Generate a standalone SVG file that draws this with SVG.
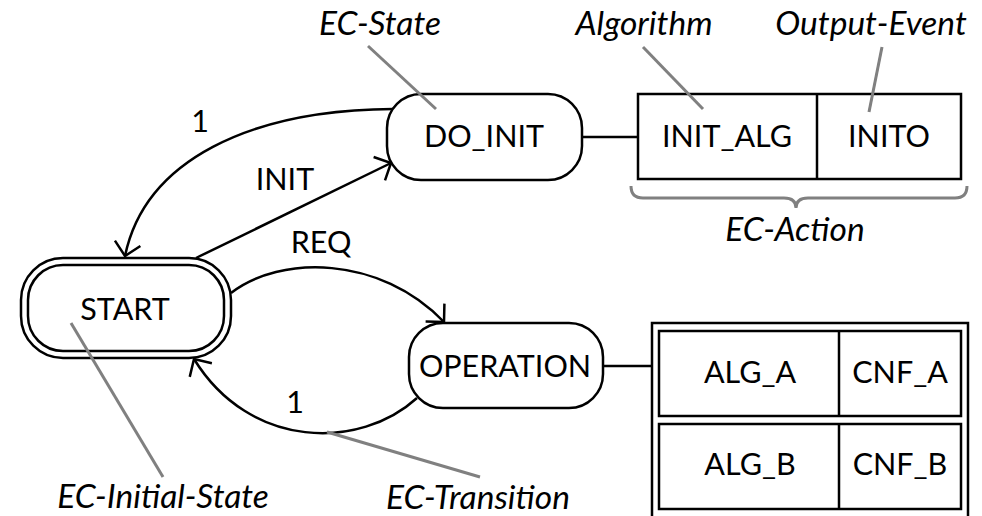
<svg xmlns="http://www.w3.org/2000/svg" width="982" height="516" viewBox="0 0 982 516">
  <defs>
    <style>
      .node { fill: #fff; stroke: #000; stroke-width: 2.5; }
      .cell { fill: #fff; stroke: #000; stroke-width: 2.5; }
      .edge { fill: none; stroke: #000; stroke-width: 2.5; }
      .note { fill: none; stroke: #808080; stroke-width: 3; }
      .lbl { font-family: Lato, "Liberation Sans", sans-serif; font-size: 30.5px; fill: #000; text-anchor: middle; }
      .it { font-style: italic; font-size: 33.5px; }
    </style>
    <marker id="open" markerUnits="userSpaceOnUse" markerWidth="30" markerHeight="30" viewBox="-16 -15 20 30" refX="0" refY="0" orient="auto">
      <path d="M-13,-13 L0,0 L-13,13" fill="none" stroke="#000" stroke-width="2.5"/>
    </marker>
  </defs>
  <rect width="982" height="516" fill="#fff"/>

  <!-- transitions -->
  <g id="connectors">
    <path class="edge" d="M393,109 C250,110 145,160 125,256" marker-end="url(#open)"/>
    <path class="edge" d="M196,258 L391,163" marker-end="url(#open)"/>
    <path class="edge" d="M231,293 C280,255 380,255 444,322" marker-end="url(#open)"/>
    <path class="edge" d="M417,398 C360,450 250,450 194,359" marker-end="url(#open)"/>
    <line class="edge" x1="582" y1="137" x2="638" y2="137"/>
    <line class="edge" x1="603" y1="366" x2="652" y2="366"/>
    <text class="lbl" x="200" y="132">1</text>
    <text class="lbl" x="285" y="190">INIT</text>
    <text class="lbl" x="321" y="253">REQ</text>
    <text class="lbl" x="295" y="413">1</text>
  </g>

  <g id="start">
    <rect class="node" x="21" y="258" width="210" height="100" rx="42"/>
    <rect class="node" x="28" y="265" width="196" height="86" rx="35"/>
    <text class="lbl" x="125" y="320">START</text>
  </g>

  <g id="do_init">
    <rect class="node" x="387" y="94" width="195" height="86" rx="34"/>
    <text class="lbl" x="484" y="147">DO_INIT</text>
  </g>

  <g id="operation">
    <rect class="node" x="409" y="323" width="194" height="85" rx="34"/>
    <text class="lbl" x="505" y="377">OPERATION</text>
  </g>

  <g id="do_init_action">
    <rect class="cell" x="638" y="94" width="323" height="85"/>
    <line class="edge" x1="817" y1="94" x2="817" y2="179"/>
    <text class="lbl" x="727" y="147">INIT_ALG</text>
    <text class="lbl" x="889" y="147">INITO</text>
  </g>

  <g id="operation_actions">
    <rect class="cell" x="652" y="323" width="316" height="200"/>
    <rect class="cell" x="659" y="331" width="302" height="85"/>
    <line class="edge" x1="839" y1="331" x2="839" y2="416"/>
    <rect class="cell" x="659" y="424" width="302" height="85"/>
    <line class="edge" x1="839" y1="424" x2="839" y2="509"/>
    <text class="lbl" x="750" y="383">ALG_A</text>
    <text class="lbl" x="900" y="383">CNF_A</text>
    <text class="lbl" x="750" y="475">ALG_B</text>
    <text class="lbl" x="900" y="475">CNF_B</text>
  </g>

  <!-- annotations -->
  <g id="annotations">
    <line class="note" x1="368" y1="46" x2="436" y2="109"/>
    <line class="note" x1="643" y1="47" x2="703" y2="109"/>
    <line class="note" x1="882" y1="47" x2="869" y2="112"/>
    <line class="note" x1="71" y1="323" x2="163" y2="477"/>
    <line class="note" x1="327" y1="432" x2="480" y2="477"/>
    <path class="note" d="M631,186 Q631,198 643,198 L784,198 Q796,198 796,208 Q796,198 808,198 L955,198 Q967,198 967,186"/>
    <text class="lbl it" x="380" y="35">EC-State</text>
    <text class="lbl it" x="644" y="35">Algorithm</text>
    <text class="lbl it" x="871" y="35">Output-Event</text>
    <text class="lbl it" x="795" y="241">EC-Action</text>
    <text class="lbl it" x="163" y="508">EC-Initial-State</text>
    <text class="lbl it" x="478" y="509">EC-Transition</text>
  </g>
</svg>
